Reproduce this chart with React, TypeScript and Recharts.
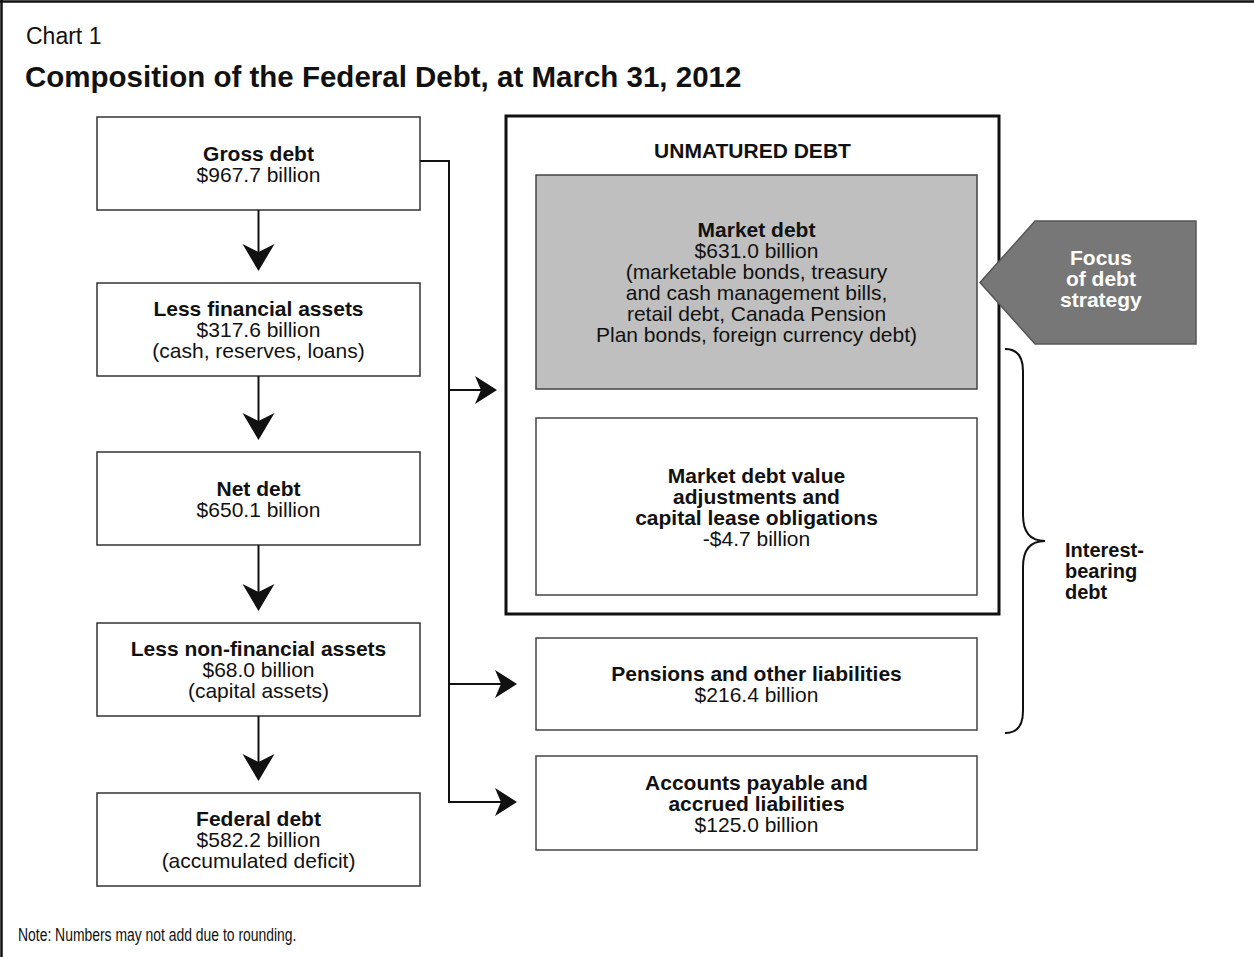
import React from 'react';
import { ScatterChart, Scatter, XAxis, YAxis, ReferenceArea, ReferenceLine } from 'recharts';

const W = 1254;
const H = 957;
const FONT = '"Liberation Sans", Arial, Helvetica, sans-serif';
const FS = 21;
const LINE = 21;

// left column: from gross debt down to federal debt
const leftTitles = ['Gross debt', 'Less financial assets', 'Net debt', 'Less non-financial assets', 'Federal debt'];
const leftValues = [967.7, 317.6, 650.1, 68.0, 582.2];
const leftNotes = ['', '(cash, reserves, loans)', '', '(capital assets)', '(accumulated deficit)'];

// right column: what gross debt is made of
const rightTitles = [
  ['Market debt'],
  ['Market debt value', 'adjustments and', 'capital lease obligations'],
  ['Pensions and other liabilities'],
  ['Accounts payable and', 'accrued liabilities'],
];
const rightValues = [631.0, -4.7, 216.4, 125.0];
const rightNotes = [
  ['(marketable bonds, treasury', 'and cash management bills,', 'retail debt, Canada Pension', 'Plan bonds, foreign currency debt)'],
  [],
  [],
  [],
];

const groupTitle = 'UNMATURED DEBT';
const focusText = ['Focus', 'of debt', 'strategy'];
const braceText = ['Interest-', 'bearing', 'debt'];

// layout, in the same units as the page
const leftX = [97, 420];
const leftTops = [117, 283, 452, 623, 793];
const leftH = 93;
const rightX = [536, 977];
const rightY = [[175, 389], [418, 595], [638, 730], [756, 850]];
const groupBox = { x1: 506, x2: 999, y1: 116, y2: 614 };
const focusBox = { x1: 980, x2: 1196, y1: 221, y2: 344 };
const braceBox = { x1: 1005, x2: 1045, y1: 349, y2: 733 };
const trunkX = 449;
const branchY = [390, 684, 802];
const branchTipX = [497, 517, 517];

const fmt = (v: number) => (v < 0 ? '-' : '') + '$' + Math.abs(v).toFixed(1) + ' billion';

type Ln = { text: string; bold?: boolean };

const boxLabel = (
  lines: Ln[],
  opts: { xFrac?: number; dy?: number; color?: string; anchor?: string; dx?: number; size?: number } = {}
) =>
  (props: any) => {
    const { x, y, width, height } = props.viewBox;
    const size = opts.size ?? FS;
    const cx = x + width * (opts.xFrac ?? 0.5) + (opts.dx ?? 0);
    const cy = y + height / 2 + (opts.dy ?? 0);
    const n = lines.length;
    return (
      <text textAnchor={(opts.anchor ?? 'middle') as any} fontFamily={FONT} fontSize={size} fill={opts.color ?? '#111'}>
        {lines.map((l, i) => (
          <tspan key={i} x={cx} y={cy + (i - (n - 1) / 2) * LINE + size * 0.36} fontWeight={l.bold ? 700 : 400}>
            {l.text}
          </tspan>
        ))}
      </text>
    );
  };

const groupLabel = (props: any) => {
  const { x, y, width } = props.viewBox;
  return (
    <text x={x + width / 2} y={y + 42} textAnchor="middle" fontFamily={FONT} fontSize={FS} fontWeight={700} fill="#111">
      {groupTitle}
    </text>
  );
};

const FocusShape = (p: any) => {
  const { x, y, width: w, height: h } = p;
  const d = `M${x},${y + h / 2} L${x + w * 0.255},${y} L${x + w},${y} L${x + w},${y + h} L${x + w * 0.255},${y + h} Z`;
  return <path d={d} fill="#777" stroke="#555" strokeWidth={1.5} />;
};

const BraceShape = (p: any) => {
  const { x, y, width: w, height: h } = p;
  const mx = x + w * 0.45;
  const my = y + h / 2;
  const d = `M${x},${y} Q${mx},${y} ${mx},${y + 22} L${mx},${my - 26} Q${mx},${my} ${x + w},${my} Q${mx},${my} ${mx},${my + 26} L${mx},${y + h - 22} Q${mx},${y + h} ${x},${y + h}`;
  return <path d={d} fill="none" stroke="#111" strokeWidth={2} />;
};

const DownHead = (p: any) => {
  const { cx, cy } = p;
  return <path d={`M${cx},${cy} L${cx - 16},${cy - 27} L${cx},${cy - 19} L${cx + 16},${cy - 27} Z`} fill="#111" />;
};

const RightHead = (p: any) => {
  const { cx, cy } = p;
  return <path d={`M${cx},${cy} L${cx - 22},${cy - 14} L${cx - 16},${cy} L${cx - 22},${cy + 14} Z`} fill="#111" />;
};

export default function App() {
  const leftCx = (leftX[0] + leftX[1]) / 2;
  const downTips = leftTops.slice(1).map((t) => ({ x: leftCx, y: t - 12 }));
  const rightTips = branchY.map((y, i) => ({ x: branchTipX[i], y }));

  return (
    <div style={{ position: 'absolute', left: 0, top: 0, width: W, height: H, background: '#fff', fontFamily: FONT }}>
      <ScatterChart width={W} height={H} margin={{ top: 0, right: 0, bottom: 0, left: 0 }}>
        <XAxis type="number" dataKey="x" domain={[0, W]} allowDataOverflow hide />
        <YAxis type="number" dataKey="y" domain={[0, H]} allowDataOverflow reversed hide />

        {/* frame: only top and left edges show */}
        <ReferenceLine segment={[{ x: 0, y: 1.5 }, { x: W, y: 1.5 }]} stroke="#111" strokeWidth={2.5} />
        <ReferenceLine segment={[{ x: 1.5, y: 0 }, { x: 1.5, y: H }]} stroke="#111" strokeWidth={2.5} />

        {/* left chain */}
        {leftTitles.map((t, i) => {
          const lines: Ln[] = [{ text: t, bold: true }, { text: fmt(leftValues[i]) }];
          if (leftNotes[i]) lines.push({ text: leftNotes[i] });
          return (
            <ReferenceArea
              key={t}
              x1={leftX[0]}
              x2={leftX[1]}
              y1={leftTops[i]}
              y2={leftTops[i] + leftH}
              fill="#fff"
              fillOpacity={1}
              stroke="#333"
              strokeWidth={1.5}
              label={boxLabel(lines)}
            />
          );
        })}
        {downTips.map((d, i) => (
          <ReferenceLine
            key={'v' + i}
            segment={[{ x: d.x, y: leftTops[i] + leftH }, { x: d.x, y: d.y - 15 }]}
            stroke="#111"
            strokeWidth={2}
          />
        ))}

        {/* connector from gross debt */}
        <ReferenceLine segment={[{ x: leftX[1], y: leftTops[0] + 44 }, { x: trunkX, y: leftTops[0] + 44 }]} stroke="#111" strokeWidth={2} />
        <ReferenceLine segment={[{ x: trunkX, y: leftTops[0] + 43 }, { x: trunkX, y: branchY[2] + 1 }]} stroke="#111" strokeWidth={2} />
        {rightTips.map((r, i) => (
          <ReferenceLine key={'h' + i} segment={[{ x: trunkX, y: r.y }, { x: r.x - 14, y: r.y }]} stroke="#111" strokeWidth={2} />
        ))}

        {/* unmatured debt group */}
        <ReferenceArea
          x1={groupBox.x1}
          x2={groupBox.x2}
          y1={groupBox.y1}
          y2={groupBox.y2}
          fill="#fff"
          fillOpacity={1}
          stroke="#111"
          strokeWidth={3}
          label={groupLabel}
        />

        {/* right boxes */}
        {rightTitles.map((t, i) => {
          const lines: Ln[] = [
            ...t.map((s) => ({ text: s, bold: true })),
            ...(i === 0 ? [{ text: fmt(rightValues[i]) }] : []),
            ...rightNotes[i].map((s) => ({ text: s })),
            ...(i !== 0 ? [{ text: fmt(rightValues[i]) }] : []),
          ];
          return (
            <ReferenceArea
              key={'r' + i}
              x1={rightX[0]}
              x2={rightX[1]}
              y1={rightY[i][0]}
              y2={rightY[i][1]}
              fill={i === 0 ? '#bfbfbf' : '#fff'}
              fillOpacity={1}
              stroke="#444"
              strokeWidth={1.5}
              label={boxLabel(lines)}
            />
          );
        })}

        {/* focus arrow */}
        <ReferenceArea
          x1={focusBox.x1}
          x2={focusBox.x2}
          y1={focusBox.y1}
          y2={focusBox.y2}
          shape={FocusShape}
          label={boxLabel(focusText.map((s) => ({ text: s, bold: true })), { xFrac: 0.56, dy: -4, color: '#fff' })}
        />

        {/* brace */}
        <ReferenceArea
          x1={braceBox.x1}
          x2={braceBox.x2}
          y1={braceBox.y1}
          y2={braceBox.y2}
          shape={BraceShape}
          label={boxLabel(braceText.map((s) => ({ text: s, bold: true })), { xFrac: 1, dx: 20, dy: 30, anchor: 'start', size: 20 })}
        />

        <Scatter data={downTips} shape={DownHead} isAnimationActive={false} />
        <Scatter data={rightTips} shape={RightHead} isAnimationActive={false} />
      </ScatterChart>

      <div style={{ position: 'absolute', left: 26, top: 25, fontSize: 23, lineHeight: '23px', color: '#111' }}>Chart 1</div>
      <div style={{ position: 'absolute', left: 25, top: 62, fontSize: 29.5, lineHeight: '29.5px', fontWeight: 700, color: '#111', whiteSpace: 'nowrap' }}>
        Composition of the Federal Debt, at March 31, 2012
      </div>
      <div
        style={{
          position: 'absolute',
          left: 18,
          top: 927,
          fontSize: 17.5,
          lineHeight: '17.5px',
          color: '#111',
          whiteSpace: 'nowrap',
          transform: 'scaleX(0.795)',
          transformOrigin: 'left top',
        }}
      >
        Note: Numbers may not add due to rounding.
      </div>
    </div>
  );
}
